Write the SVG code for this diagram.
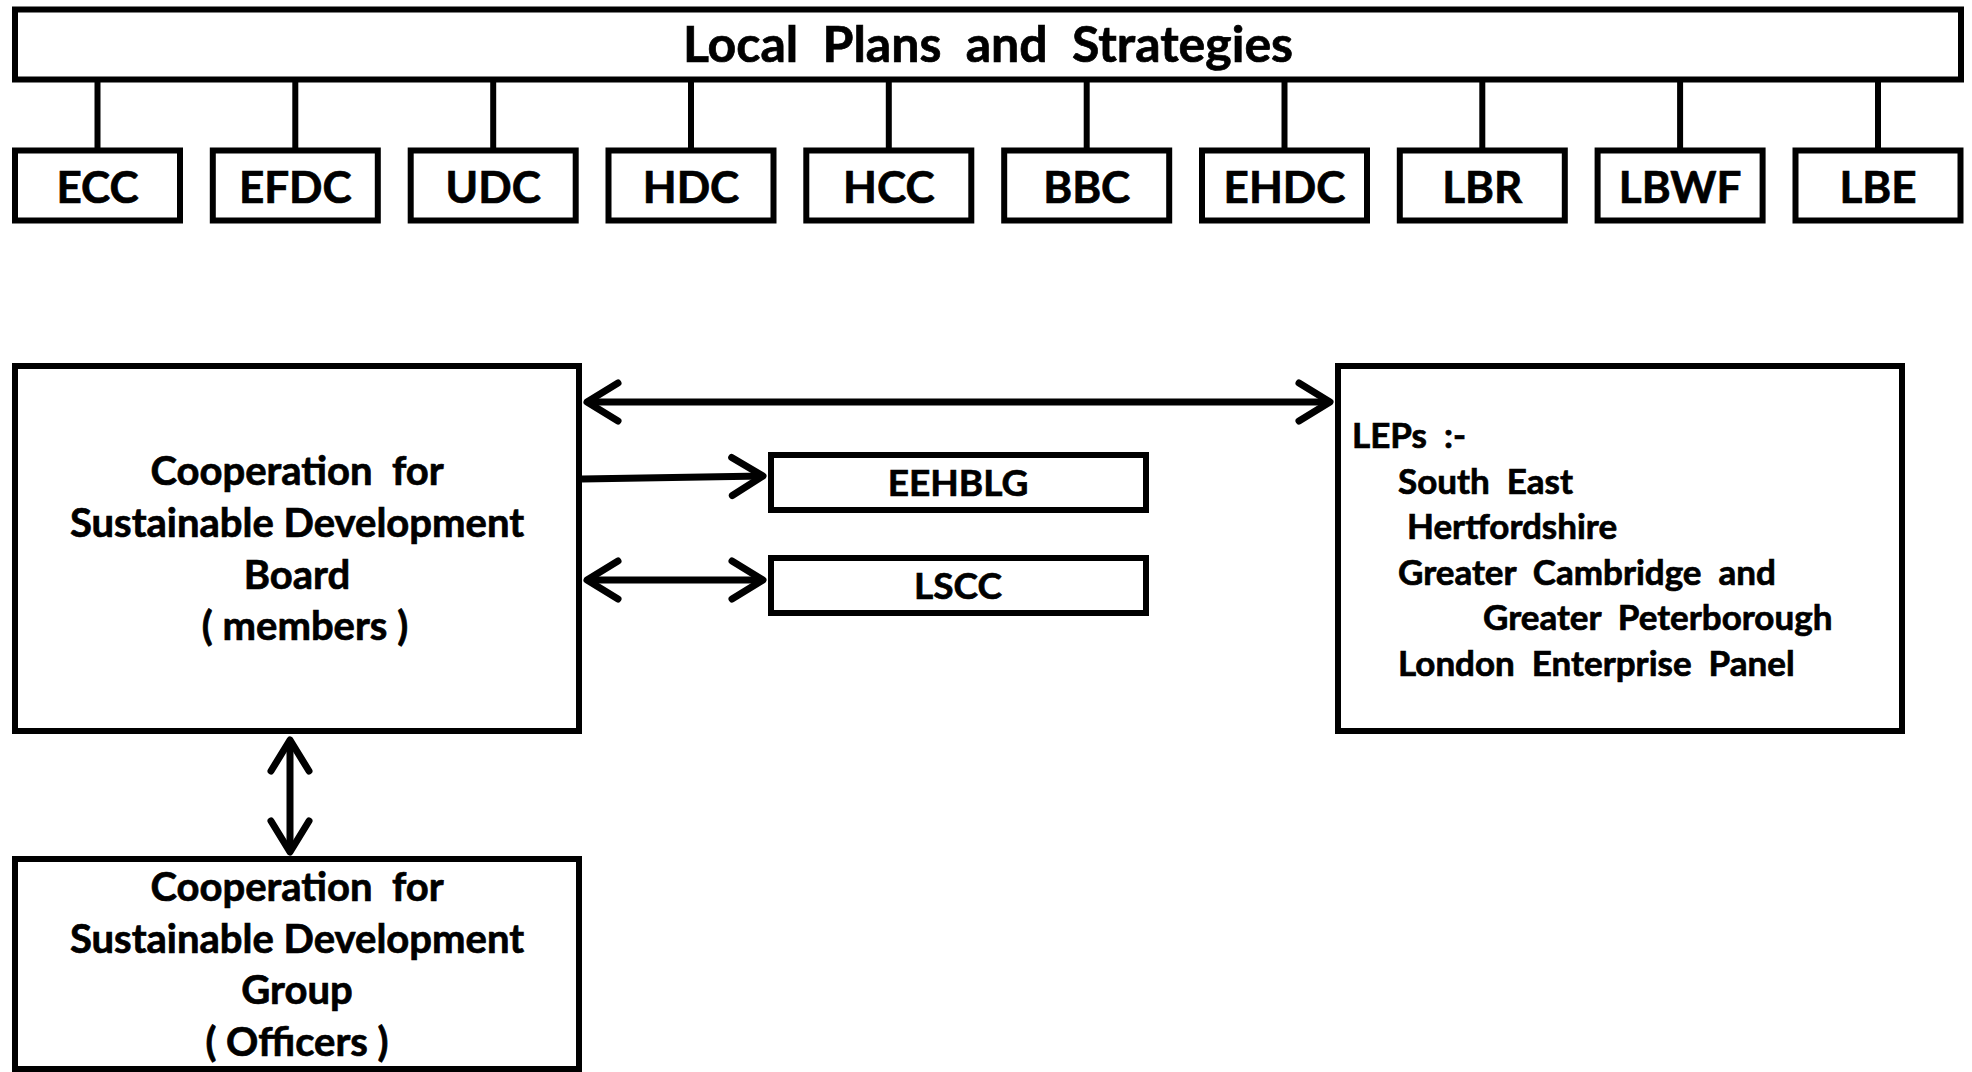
<svg xmlns="http://www.w3.org/2000/svg" width="1972" height="1072" viewBox="0 0 1972 1072">
<style>
.box{fill:#fff;stroke:#000;stroke-width:6}
.ln{stroke:#000;stroke-width:6;fill:none}
.ar{stroke:#000;stroke-width:7;fill:none}
text{font-family:Lato,"Liberation Sans",sans-serif;font-weight:bold;fill:#000;stroke:#000;stroke-width:0.7;white-space:pre}
.t{font-size:50px;text-anchor:middle}
.s{font-size:44px;text-anchor:middle}
.m{font-size:40px;text-anchor:middle}
.k{font-size:37px;text-anchor:middle}
.l{font-size:35px}
</style>
<defs>
<marker id="ah" markerUnits="userSpaceOnUse" viewBox="-45 -25 55 50" refX="0" refY="0" markerWidth="55" markerHeight="50" orient="auto-start-reverse">
<path d="M-31,-19 L0,0 L-31,19" fill="none" stroke="#000" stroke-width="7" stroke-linecap="round" stroke-linejoin="round"/>
</marker>
</defs>
<g id="connectors">
<line class="ln" x1="97.5" y1="80" x2="97.5" y2="150"/>
<line class="ln" x1="295.3" y1="80" x2="295.3" y2="150"/>
<line class="ln" x1="493.2" y1="80" x2="493.2" y2="150"/>
<line class="ln" x1="691" y1="80" x2="691" y2="150"/>
<line class="ln" x1="888.8" y1="80" x2="888.8" y2="150"/>
<line class="ln" x1="1086.7" y1="80" x2="1086.7" y2="150"/>
<line class="ln" x1="1284.5" y1="80" x2="1284.5" y2="150"/>
<line class="ln" x1="1482.3" y1="80" x2="1482.3" y2="150"/>
<line class="ln" x1="1680.1" y1="80" x2="1680.1" y2="150"/>
<line class="ln" x1="1878" y1="80" x2="1878" y2="150"/>
<line class="ar" x1="587" y1="402" x2="1330" y2="402" marker-start="url(#ah)" marker-end="url(#ah)"/>
<line class="ar" x1="582" y1="479" x2="763" y2="476" marker-end="url(#ah)"/>
<line class="ar" x1="587" y1="580" x2="763" y2="580" marker-start="url(#ah)" marker-end="url(#ah)"/>
<line class="ar" x1="290" y1="740" x2="290" y2="852" marker-start="url(#ah)" marker-end="url(#ah)"/>
</g>
<g id="local-plans">
<rect class="box" x="15" y="9.5" width="1946" height="70"/>
<text class="t" x="988" y="62">Local  Plans  and  Strategies</text>
</g>
<g id="ecc"><rect class="box" x="15" y="150.5" width="165" height="70"/><text class="s" x="97.5" y="203">ECC</text></g>
<g id="efdc"><rect class="box" x="212.8" y="150.5" width="165" height="70"/><text class="s" x="295.3" y="203">EFDC</text></g>
<g id="udc"><rect class="box" x="410.7" y="150.5" width="165" height="70"/><text class="s" x="493.2" y="203">UDC</text></g>
<g id="hdc"><rect class="box" x="608.5" y="150.5" width="165" height="70"/><text class="s" x="691" y="203">HDC</text></g>
<g id="hcc"><rect class="box" x="806.3" y="150.5" width="165" height="70"/><text class="s" x="888.8" y="203">HCC</text></g>
<g id="bbc"><rect class="box" x="1004.2" y="150.5" width="165" height="70"/><text class="s" x="1086.7" y="203">BBC</text></g>
<g id="ehdc"><rect class="box" x="1202" y="150.5" width="165" height="70"/><text class="s" x="1284.5" y="203">EHDC</text></g>
<g id="lbr"><rect class="box" x="1399.8" y="150.5" width="165" height="70"/><text class="s" x="1482.3" y="203">LBR</text></g>
<g id="lbwf"><rect class="box" x="1597.6" y="150.5" width="165" height="70"/><text class="s" x="1680.1" y="203">LBWF</text></g>
<g id="lbe"><rect class="box" x="1795.5" y="150.5" width="165" height="70"/><text class="s" x="1878" y="203">LBE</text></g>
<g id="board">
<rect class="box" x="15" y="366" width="564" height="365"/>
<text class="m" x="297" y="485">Cooperation  for</text>
<text class="m" x="297" y="537">Sustainable Development</text>
<text class="m" x="297" y="589">Board</text>
<text class="m" x="305" y="640">( members )</text>
</g>
<g id="eehblg">
<rect class="box" x="771" y="455" width="375" height="55"/>
<text class="k" x="958" y="496">EEHBLG</text>
</g>
<g id="lscc">
<rect class="box" x="771" y="558" width="375" height="55"/>
<text class="k" x="958" y="599">LSCC</text>
</g>
<g id="leps">
<rect class="box" x="1338" y="366" width="564" height="365"/>
<text class="l" x="1352" y="448">LEPs  :-</text>
<text class="l" x="1398" y="494">South  East</text>
<text class="l" x="1407" y="539">Hertfordshire</text>
<text class="l" x="1398" y="585">Greater  Cambridge  and</text>
<text class="l" x="1483" y="630">Greater  Peterborough</text>
<text class="l" x="1398" y="676">London  Enterprise  Panel</text>
</g>
<g id="group">
<rect class="box" x="15" y="859" width="564" height="210"/>
<text class="m" x="297" y="901">Cooperation  for</text>
<text class="m" x="297" y="953">Sustainable Development</text>
<text class="m" x="297" y="1004">Group</text>
<text class="m" x="297" y="1056">( Officers )</text>
</g>
</svg>
